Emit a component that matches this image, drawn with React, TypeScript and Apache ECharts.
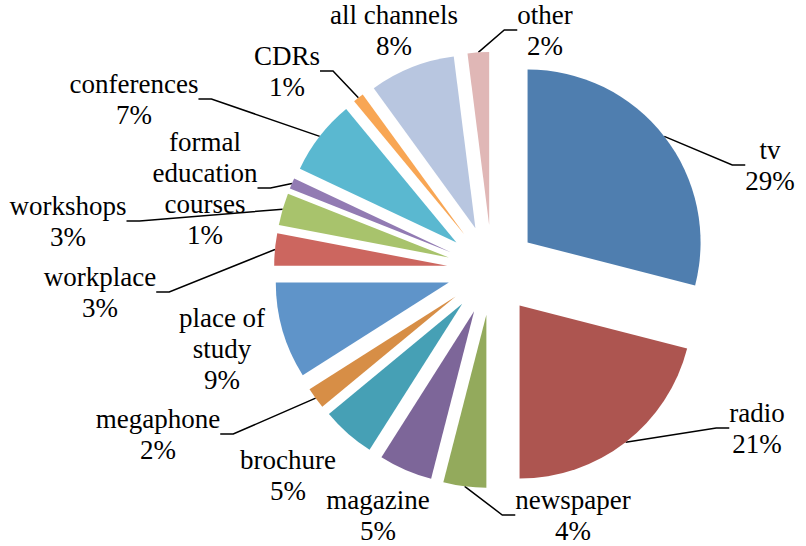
import React, { useEffect, useRef } from "react";
import * as echarts from "echarts";

// Data (percent shares, clockwise from 12 o'clock)
const categories = [
  "tv", "radio", "newspaper", "magazine", "brochure", "megaphone",
  "place of study", "workplace", "workshops", "formal education courses",
  "conferences", "CDRs", "all channels", "other",
];
const values = [29, 21, 4, 5, 5, 2, 9, 3, 3, 1, 7, 1, 8, 2];
const labelNames = [
  "tv", "radio", "newspaper", "magazine", "brochure", "megaphone",
  "place of\nstudy", "workplace", "workshops", "formal\neducation\ncourses",
  "conferences", "CDRs", "all channels", "other",
];

// Styling / layout
const colors = [
  "#4F7EAF", "#AD5550", "#93AA5C", "#7D6699", "#46A0B5", "#D78E46",
  "#5F94C9", "#CC665F", "#A8C36C", "#927BB3", "#5AB8D0", "#F8A654",
  "#B8C6E0", "#E0B7B6",
];
const showLeader = [true, true, true, false, false, true, false, true, true, true, true, true, false, true];
const labelCenters: [number, number][] = [
  [770, 165], [757, 428], [573, 515], [378, 515], [288, 475], [158, 434],
  [222, 349], [100, 292], [68, 221], [205, 188], [134, 99], [287, 71],
  [394, 30], [545, 30],
];
const CX = 492;
const CY = 270;
const RADIUS = 173;
const EXPLODE = 45;
const FONT = "Liberation Serif";

export default function App() {
  const ref = useRef<HTMLDivElement>(null);
  useEffect(() => {
    if (!ref.current) return;
    const chart = echarts.init(ref.current, undefined, { renderer: "svg" });
    const total = values.reduce((a, b) => a + b, 0);
    let cum = 0;
    const series = categories.map((_, i) => {
      const mid = ((cum + values[i] / 2) / total) * Math.PI * 2;
      cum += values[i];
      const center = [CX + EXPLODE * Math.sin(mid), CY - EXPLODE * Math.cos(mid)];
      return {
        type: "pie",
        center,
        radius: RADIUS,
        startAngle: 90,
        clockwise: true,
        silent: true,
        avoidLabelOverlap: false,
        minShowLabelAngle: 0,
        label: {
          show: false,
          color: "#000",
          fontFamily: FONT,
          fontSize: 27,
          lineHeight: 31,
          align: "center",
          formatter: (p: any) => `${labelNames[p.dataIndex]}\n${p.value}%`,
        },
        labelLine: {
          show: false,
          length: 10,
          length2: 13,
          minTurnAngle: 60,
          lineStyle: { color: "#000", width: 1.5 },
        },
        labelLayout: (p: any) => {
          const c = labelCenters[p.dataIndex];
          return { x: c[0], y: c[1], align: "center", verticalAlign: "middle" };
        },
        data: categories.map((name, j) => ({
          name,
          value: values[j],
          itemStyle: { color: j === i ? colors[j] : "rgba(0,0,0,0)", borderWidth: 0 },
          label: { show: j === i },
          labelLine: { show: j === i && showLeader[j] },
        })),
      };
    });
    chart.setOption({
      animation: false,
      backgroundColor: "#ffffff",
      textStyle: { fontFamily: FONT },
      series,
    } as any);
    return () => chart.dispose();
  }, []);
  return (
    <div
      ref={ref}
      style={{ position: "absolute", left: 0, top: 0, width: 806, height: 546 }}
    />
  );
}
